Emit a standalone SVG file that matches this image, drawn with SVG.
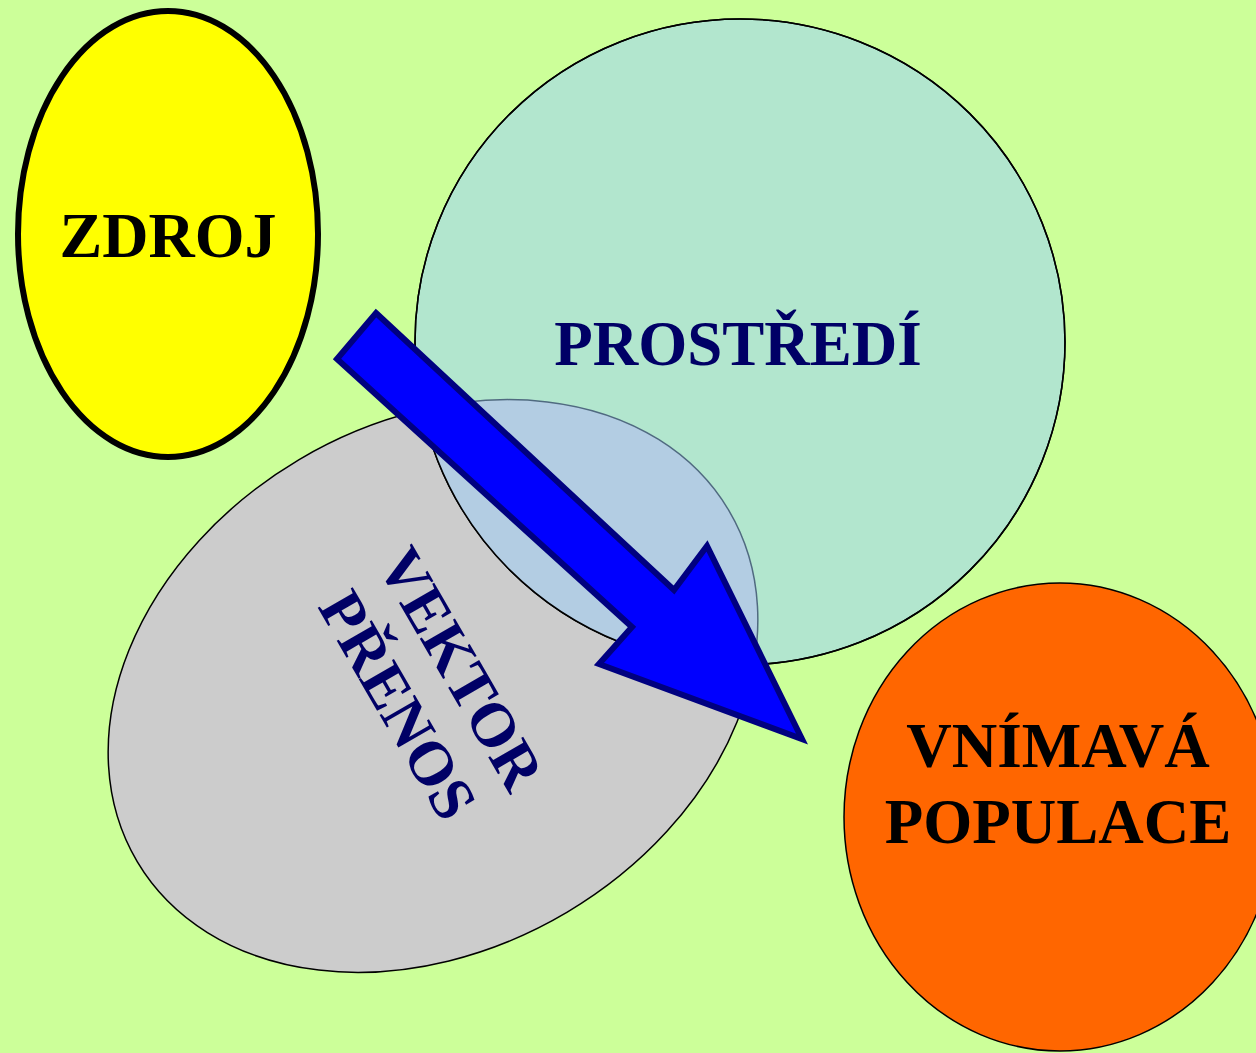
<svg xmlns="http://www.w3.org/2000/svg" width="1256" height="1053" viewBox="0 0 1256 1053">
<style>
.lbl{font-family:"Liberation Serif","Times New Roman",serif;font-weight:bold;text-anchor:middle}
.navy{fill:#000066}
.blk{fill:#000000}
</style>
<defs>
<clipPath id="tealClip"><ellipse cx="740" cy="342" rx="325" ry="323"/></clipPath>
</defs>
<rect width="1256" height="1053" fill="#CCFF99"/>
<g id="node-zdroj">
<ellipse cx="168" cy="234" rx="150" ry="223" fill="#FFFF00" stroke="#000" stroke-width="6"/>
<text class="lbl blk" x="168" y="257" font-size="64">ZDROJ</text>
</g>
<g id="node-vektor">
<ellipse cx="433" cy="686" rx="344" ry="263" transform="rotate(-30.7 433 686)" fill="#CCCCCC" stroke="#000" stroke-width="1.5"/>
</g>
<g id="node-prostredi">
<ellipse cx="740" cy="342" rx="325" ry="323" fill="#B2E6CE" stroke="#000" stroke-width="1.5"/>
<g clip-path="url(#tealClip)">
<ellipse cx="433" cy="686" rx="344" ry="263" transform="rotate(-30.7 433 686)" fill="#B3CDE3" stroke="#506A80" stroke-width="1.5"/>
</g>
<ellipse cx="740" cy="342" rx="325" ry="323" fill="none" stroke="#000" stroke-width="1.5"/>
<text class="lbl navy" x="738" y="365" font-size="63">PROSTŘEDÍ</text>
</g>
<g id="node-vektor-label" transform="translate(405 701) rotate(60)">
<text class="lbl navy" x="0" y="-44" font-size="62">VEKTOR</text>
<text class="lbl navy" x="0" y="29" font-size="62">PŘENOS</text>
</g>
<g id="node-populace">
<ellipse cx="1060" cy="817" rx="216" ry="234" fill="#FF6600" stroke="#000" stroke-width="1.5"/>
<text class="lbl blk" x="1058" y="767" font-size="63">VNÍMAVÁ</text>
<text class="lbl blk" x="1058" y="843" font-size="63">POPULACE</text>
</g>
<g id="connectors">
<polygon points="376,313 674,590 707,546 802,739 599,664 632,627 337,359" fill="#0000FF" stroke="#000080" stroke-width="6" stroke-linejoin="miter"/>
</g>
</svg>
